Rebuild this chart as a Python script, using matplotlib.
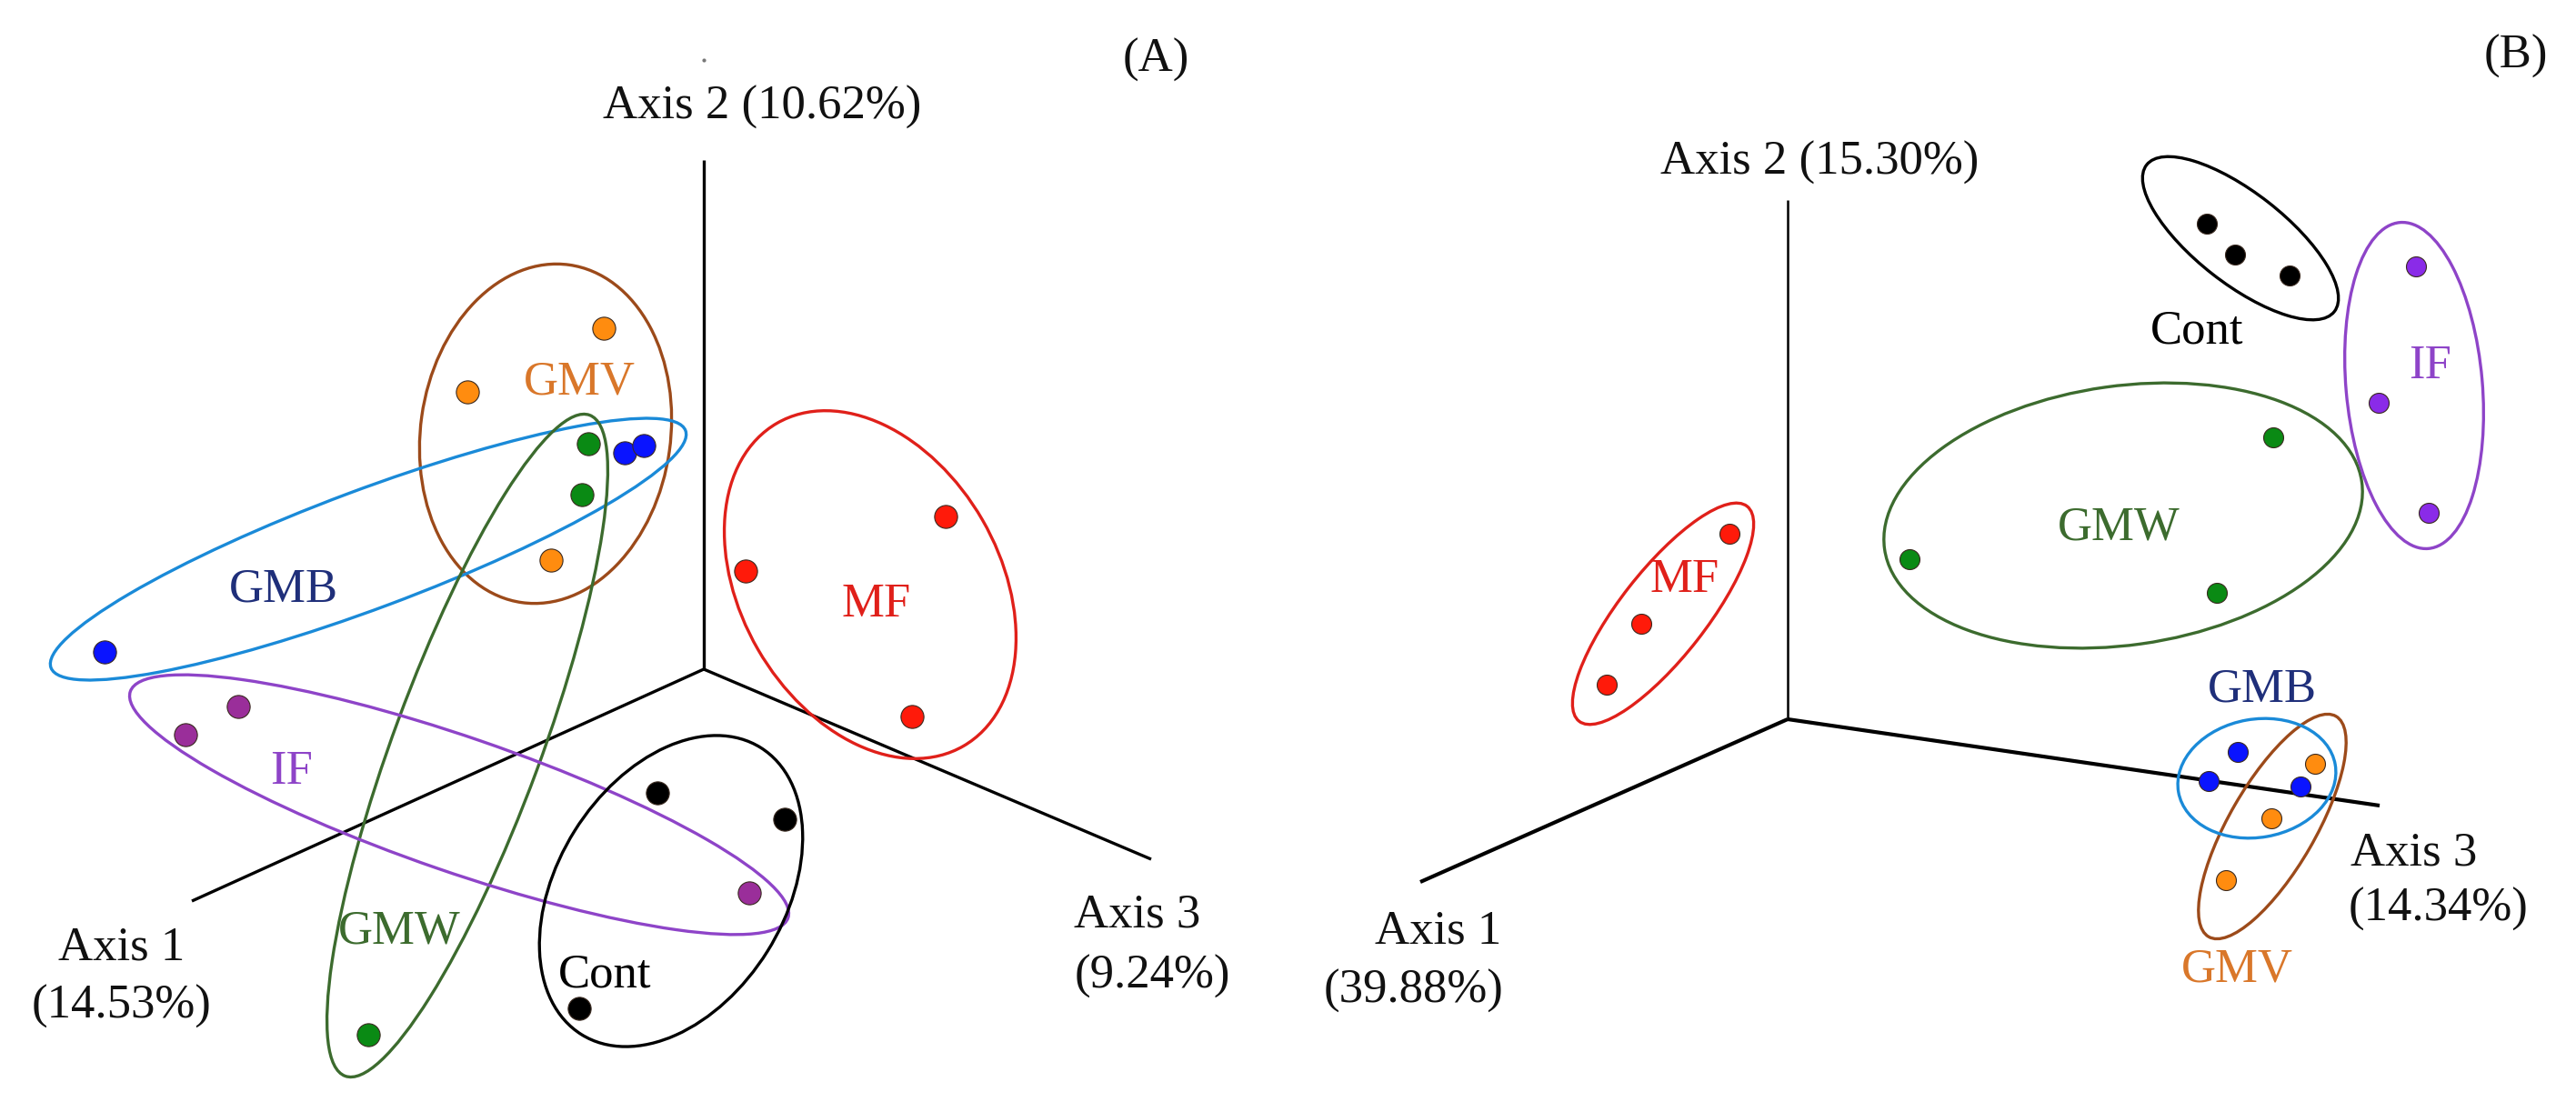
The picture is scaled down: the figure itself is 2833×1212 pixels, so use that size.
import numpy as np
import matplotlib.pyplot as plt
from matplotlib.patches import Ellipse

plt.rcParams["font.family"] = ["Liberation Serif", "DejaVu Serif"]

groups = ["GMV", "GMB", "GMW", "MF", "IF", "Cont"]

# sample positions in panel A (picture pixels, y down)
gmv_a = np.array([[664, 361], [514, 431], [606, 616]])
gmb_a = np.array([[115, 717], [687, 498], [708, 490]])
gmw_a = np.array([[647, 488], [640, 544], [405, 1138]])
mf_a = np.array([[820, 628], [1040, 568], [1003, 788]])
if_a = np.array([[262, 777], [204, 808], [824, 982]])
cont_a = np.array([[723, 872], [863, 901], [637, 1109]])

# sample positions in panel B
gmv_b = np.array([[2546, 840], [2498, 900], [2448, 968]])
gmb_b = np.array([[2461, 827], [2429, 859], [2530, 865]])
gmw_b = np.array([[2500, 481], [2100, 615], [2438, 652]])
mf_b = np.array([[1902, 587], [1805, 686], [1767, 753]])
if_b = np.array([[2657, 293], [2616, 443], [2671, 564]])
cont_b = np.array([[2427, 246], [2458, 280], [2518, 303]])

# group ellipses: centre x, centre y, major, minor, angle (deg, ccw on screen)
ell_a = [(600, 477, 375, 275, 82), (405, 604, 745, 130, 20.5),
         (514, 820, 775, 162, 69.7), (957, 643, 410, 285, 120),
         (505, 885, 765, 148, -19), (738, 980, 372, 250, 58)]
ell_b = [(2499, 909, 280, 95, 60), (2482, 856, 175, 130, 10),
         (2335, 567, 530, 285, 8), (1829, 675, 300, 95, 52),
         (2655, 424, 360, 150, 95), (2464, 262, 262, 100, 142)]

lab_a = [(637, 421), (312, 648), (439, 1024), (964, 665), (321, 849), (665, 1072)]
lab_b = [(2460, 1066), (2488, 758), (2330, 580), (1853, 638), (2673, 403), (2416, 365)]

# axis triads: origin, axis 1 end, axis 2 end, axis 3 end
axes_a = [(774, 736), (211, 991), (774, 176), (1266, 945)]
axes_b = [(1966, 791), (1562, 970), (1966, 220), (2617, 886)]

dot_col_a = ["#ff8c0f", "#0a14ff", "#0a8a14", "#ff1a0a", "#9a2e9a", "#000000"]
dot_col_b = ["#ff8c0f", "#0a14ff", "#0a8a14", "#ff1a0a", "#8a2be8", "#000000"]
ell_col = ["#9c4a1a", "#1a8ad8", "#3c6b2e", "#e0201a", "#8e44c8", "#000000"]
lab_col = ["#d9772a", "#1f2f7a", "#3c6b2e", "#e0201a", "#8e44c8", "#000000"]

fig = plt.figure(figsize=(28.33, 12.12), dpi=100)
ax = fig.add_axes([0, 0, 1, 1])
ax.set_xlim(0, 2833)
ax.set_ylim(1212, 0)
ax.axis("off")


def draw_panel(pts, ells, labs, triad, dot_cols, msize, axis_lw):
    o = triad[0]
    for end, lw in zip(triad[1:], axis_lw):
        ax.plot([o[0], end[0]], [o[1], end[1]], color="black", lw=lw,
                solid_capstyle="butt", zorder=1)
    for i, g in enumerate(groups):
        cx, cy, w, h, ang = ells[i]
        ax.add_patch(Ellipse((cx, cy), w, h, angle=-ang, fill=False,
                             edgecolor=ell_col[i], lw=2.4, zorder=2))
        p = pts[i]
        ax.scatter(p[:, 0], p[:, 1], s=msize, color=dot_cols[i],
                   edgecolors="#3a2a20", linewidths=0.8, zorder=3)
        ax.text(labs[i][0], labs[i][1], g, color=lab_col[i], fontsize=38,
                ha="center", va="center", zorder=4)


draw_panel([gmv_a, gmb_a, gmw_a, mf_a, if_a, cont_a], ell_a, lab_a, axes_a,
           dot_col_a, 330, (2.4, 2.4, 2.4))
draw_panel([gmv_b, gmb_b, gmw_b, mf_b, if_b, cont_b], ell_b, lab_b, axes_b,
           dot_col_b, 250, (3.0, 1.8, 3.0))

txt = dict(fontsize=38, ha="center", va="center", color="#111111")
ax.text(838, 118, "Axis 2 (10.62%)", **txt)
ax.text(134, 1042, "Axis 1", **txt)
ax.text(134, 1107, "(14.53%)", **txt)
ax.text(1251, 1006, "Axis 3", **txt)
ax.text(1267, 1074, "(9.24%)", **txt)
ax.text(1271, 66, "(A)", **txt)
ax.plot([774], [66], marker="o", ms=2, color="#777777")

ax.text(2001, 179, "Axis 2 (15.30%)", **txt)
ax.text(1582, 1024, "Axis 1", **txt)
ax.text(1555, 1090, "(39.88%)", **txt)
ax.text(2655, 938, "Axis 3", **txt)
ax.text(2682, 1000, "(14.34%)", **txt)
ax.text(2767, 62, "(B)", **txt)

fig.savefig("out.png", dpi=100)
